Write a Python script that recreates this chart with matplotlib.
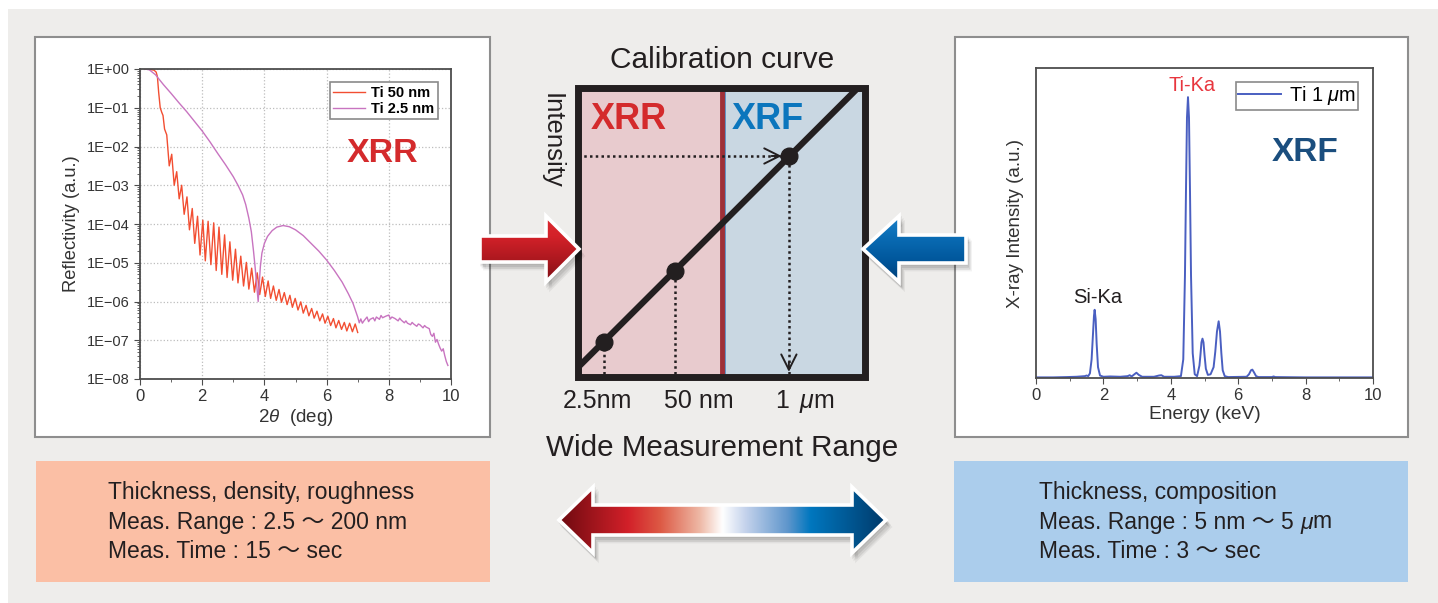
import numpy as np
import matplotlib.pyplot as plt
from matplotlib.patches import Rectangle, Polygon
from matplotlib.colors import LinearSegmentedColormap
from matplotlib.ticker import FuncFormatter, LogLocator, NullFormatter

plt.rcParams['font.family'] = ['Liberation Sans', 'Noto Sans CJK JP', 'DejaVu Sans']
plt.rcParams['mathtext.fontset'] = 'custom'
plt.rcParams['mathtext.rm'] = 'Liberation Sans'
plt.rcParams['mathtext.it'] = 'Liberation Sans:italic'
plt.rcParams['mathtext.bf'] = 'Liberation Sans:bold'

INK = '#231f20'

# ---- XRR data (log10 of reflectivity) ----
# Ti 50 nm: total reflection edge, then Kiessig fringe maxima and minima
ti50_edge_deg = [0.15, 0.3, 0.45, 0.52, 0.56, 0.6, 0.65, 0.7, 0.74, 0.79]
ti50_edge_log = [0.0, -0.01, -0.03, -0.08, -0.2, -0.6, -1.0, -1.12, -1.2, -1.55]
ti50_max_deg = [0.86, 1.02, 1.18, 1.34, 1.51, 1.68, 1.85, 2.02, 2.19, 2.37, 2.54, 2.72,
                2.89, 3.07, 3.24, 3.42, 3.59, 3.77, 3.94, 4.12, 4.29, 4.47, 4.64, 4.82,
                4.99, 5.17, 5.34, 5.52, 5.69, 5.87, 6.04, 6.22, 6.39, 6.57, 6.74, 6.92]
ti50_max_log = [-1.7, -2.2, -2.65, -3.0, -3.3, -3.6, -3.8, -3.9, -3.93, -3.97, -4.08, -4.28,
                -4.46, -4.65, -4.83, -4.99, -5.14, -5.26, -5.37, -5.47, -5.6, -5.69, -5.77, -5.84,
                -5.92, -6.01, -6.1, -6.18, -6.25, -6.32, -6.38, -6.44, -6.49, -6.54, -6.56, -6.58]
ti50_min_deg = [0.94, 1.10, 1.26, 1.42, 1.59, 1.76, 1.93, 2.10, 2.28, 2.45, 2.63, 2.80,
                2.98, 3.15, 3.33, 3.50, 3.68, 3.85, 4.03, 4.20, 4.38, 4.55, 4.73, 4.90,
                5.08, 5.25, 5.43, 5.60, 5.78, 5.95, 6.13, 6.30, 6.48, 6.65, 6.83, 7.00]
ti50_min_log = [-2.5, -3.0, -3.35, -3.75, -4.15, -4.5, -4.8, -4.95, -5.05, -5.2, -5.3, -5.38,
                -5.45, -5.52, -5.6, -5.68, -5.76, -5.82, -5.87, -5.92, -5.97, -6.02, -6.08, -6.15,
                -6.22, -6.3, -6.37, -6.43, -6.5, -6.56, -6.62, -6.68, -6.72, -6.76, -6.78, -6.8]

# Ti 2.5 nm: (2theta, log10 R)
ti25_curve = [
    (0.15, 0.0), (0.3, -0.02), (0.5, -0.15), (0.75, -0.4), (1.0, -0.63), (1.25, -0.87),
    (1.5, -1.1), (1.75, -1.35), (2.0, -1.6), (2.25, -1.88), (2.5, -2.18), (2.75, -2.47),
    (3.0, -2.78), (3.15, -3.0), (3.3, -3.25), (3.4, -3.5), (3.5, -3.85), (3.58, -4.2),
    (3.65, -4.7), (3.7, -5.1), (3.75, -5.55), (3.8, -6.0), (3.83, -5.6), (3.87, -5.1),
    (3.92, -4.75), (4.0, -4.5), (4.1, -4.32), (4.25, -4.17), (4.4, -4.08), (4.6, -4.04),
    (4.8, -4.07), (5.0, -4.15), (5.25, -4.3), (5.5, -4.5), (5.75, -4.7), (6.0, -4.93),
    (6.25, -5.2), (6.5, -5.5), (6.7, -5.8), (6.85, -6.05), (7.0, -6.4), (7.05, -6.55),
    (7.1, -6.45), (7.15, -6.56), (7.2, -6.5), (7.3, -6.4), (7.35, -6.52), (7.4, -6.46),
    (7.5, -6.42), (7.55, -6.5), (7.6, -6.4), (7.7, -6.46), (7.75, -6.36), (7.8, -6.42),
    (7.9, -6.38), (8.0, -6.35), (8.05, -6.45), (8.1, -6.4), (8.2, -6.44), (8.3, -6.5),
    (8.35, -6.43), (8.4, -6.48), (8.5, -6.55), (8.55, -6.5), (8.6, -6.56), (8.7, -6.6),
    (8.75, -6.54), (8.8, -6.58), (8.9, -6.64), (8.95, -6.58), (9.0, -6.6), (9.1, -6.68),
    (9.15, -6.62), (9.2, -6.66), (9.3, -6.7), (9.35, -6.85), (9.4, -6.9), (9.45, -6.82),
    (9.5, -7.05), (9.55, -6.98), (9.6, -7.1), (9.65, -7.2), (9.7, -7.28), (9.75, -7.22),
    (9.8, -7.4), (9.85, -7.55), (9.9, -7.65),
]

# ---- XRF spectrum: (energy keV, intensity as fraction of full scale) ----
xrf_spectrum = [
    (0.0, 0.002), (0.5, 0.002), (0.9, 0.003), (1.2, 0.004), (1.45, 0.006), (1.5, 0.008),
    (1.55, 0.006), (1.6, 0.015), (1.65, 0.06), (1.69, 0.14), (1.72, 0.20), (1.74, 0.22),
    (1.77, 0.19), (1.8, 0.11), (1.84, 0.035), (1.9, 0.008), (2.0, 0.004), (2.2, 0.005),
    (2.5, 0.004), (2.72, 0.006), (2.78, 0.009), (2.84, 0.005), (2.92, 0.012), (2.98, 0.017),
    (3.05, 0.01), (3.15, 0.004), (3.5, 0.004), (3.65, 0.008), (3.72, 0.009), (3.8, 0.004),
    (4.1, 0.004), (4.3, 0.006), (4.37, 0.06), (4.42, 0.33), (4.45, 0.60), (4.48, 0.84),
    (4.51, 0.906), (4.54, 0.84), (4.57, 0.60), (4.6, 0.33), (4.65, 0.08), (4.71, 0.012),
    (4.78, 0.006), (4.85, 0.04), (4.88, 0.075), (4.91, 0.115), (4.94, 0.127), (4.97, 0.115),
    (5.0, 0.075), (5.04, 0.03), (5.1, 0.01), (5.18, 0.012), (5.27, 0.035), (5.32, 0.085),
    (5.37, 0.15), (5.42, 0.183), (5.46, 0.15), (5.5, 0.08), (5.54, 0.025), (5.6, 0.006),
    (5.7, 0.003), (6.25, 0.004), (6.32, 0.012), (6.38, 0.025), (6.42, 0.027), (6.47, 0.018),
    (6.53, 0.006), (6.6, 0.003), (7.0, 0.003), (7.05, 0.005), (7.1, 0.003), (8.0, 0.002),
    (9.0, 0.002), (10.0, 0.002),
]

# ---- calibration sketch (schematic 0..1 axes) ----
calib_line_x = [0.0, 0.975]
calib_line_y = [0.03, 1.0]
calib_pos = [0.092, 0.338, 0.734]
calib_intensity = [0.121, 0.366, 0.763]
calib_labels = ['2.5nm', '50 nm', r'1 $\,\mu$m']
calib_label_x = [0.07, 0.42, 0.79]
region_split = 0.5

xrr_specs = ['Thickness, density, roughness', 'Meas. Range : 2.5 ～ 200 nm', 'Meas. Time : 15 ～ sec']
xrf_specs = ['Thickness, composition', 'Meas. Range : 5 nm ～ 5 ', 'Meas. Time : 3 ～ sec']

W, H = 1438, 603
fig = plt.figure(figsize=(W / 100, H / 100), dpi=100)
fig.patch.set_facecolor('white')


def px_axes(x0, y0, x1, y1):
    return fig.add_axes([x0 / W, 1 - y1 / H, (x1 - x0) / W, (y1 - y0) / H])


# background layer in pixel coordinates
bg = px_axes(0, 0, W, H)
bg.set_zorder(-5)
bg.axis('off')
bg.set_xlim(0, W)
bg.set_ylim(H, 0)
bg.add_patch(Rectangle((8, 9), W - 8, H - 9, facecolor='#eeedeb', edgecolor='none'))
for x0, x1 in [(35, 490), (955, 1408)]:
    bg.add_patch(Rectangle((x0, 37), x1 - x0, 400, facecolor='white', edgecolor='#8e8e8e', lw=1.5))
bg.add_patch(Rectangle((36, 461), 454, 121, facecolor='#fbbfa5', edgecolor='none'))
bg.add_patch(Rectangle((954, 461), 454, 121, facecolor='#abcdec', edgecolor='none'))

bg.text(722, 60, 'Calibration curve', fontsize=21.5, ha='center', va='center', color=INK)
bg.text(722, 448, 'Wide Measurement Range', fontsize=21.3, ha='center', va='center', color=INK)
bg.text(552, 141, 'Intensity', rotation=-90, fontsize=18.5, ha='center', va='center', color=INK)

for i, line in enumerate(xrr_specs):
    bg.text(108, 493 + 29 * i, line, fontsize=16.5, ha='left', va='center', color=INK)
spec_texts = []
for i, line in enumerate(xrf_specs):
    spec_texts.append(bg.text(1039, 493 + 29 * i, line, fontsize=16.5, ha='left', va='center', color=INK))
mu = bg.annotate('μ', xy=(1, 0), xycoords=spec_texts[1], fontsize=16.5, fontstyle='italic',
                 ha='left', va='bottom', color=INK)
bg.annotate('m', xy=(1, 0), xycoords=mu, fontsize=16.5, ha='left', va='bottom', color=INK)

# ---- left: XRR chart ----
ax1 = px_axes(140, 69, 451, 379)
order = np.argsort(ti50_edge_deg + ti50_max_deg + ti50_min_deg)
ti50_x = np.array(ti50_edge_deg + ti50_max_deg + ti50_min_deg)[order]
ti50_y = 10 ** np.array(ti50_edge_log + ti50_max_log + ti50_min_log)[order]
ti25_x = [p[0] for p in ti25_curve]
ti25_y = [10 ** p[1] for p in ti25_curve]
ax1.plot(ti50_x, ti50_y, color='#f24e32', lw=1.0, label='Ti 50 nm')
ax1.plot(ti25_x, ti25_y, color='#c874c0', lw=1.0, label='Ti 2.5 nm')
ax1.set_yscale('log')
ax1.set_xlim(0, 10)
ax1.set_ylim(1e-8, 1)
ax1.set_xticks(range(0, 11, 2))
ax1.set_xticks(range(1, 10, 2), minor=True)
ax1.yaxis.set_major_locator(LogLocator(base=10, numticks=20))
ax1.yaxis.set_minor_locator(LogLocator(base=10, subs=np.arange(2, 10), numticks=20))
ax1.yaxis.set_major_formatter(FuncFormatter(
    lambda v, p: ('1E%+03d' % int(round(np.log10(v)))).replace('-', '\u2212')))
ax1.yaxis.set_minor_formatter(NullFormatter())
ax1.grid(True, which='major', ls=':', color='#bdbdbd', lw=0.9)
ax1.tick_params(axis='y', which='major', labelsize=10.5, length=4, color='#4d4d4d', labelcolor='#333333')
ax1.tick_params(axis='x', which='major', labelsize=12, length=4, color='#4d4d4d', labelcolor='#333333')
ax1.tick_params(which='minor', length=2, color='#4d4d4d')
for s in ax1.spines.values():
    s.set_color('#4d4d4d')
    s.set_linewidth(1.3)
ax1.set_xlabel(r'2$\theta$  (deg)', fontsize=13.5, color='#333333', labelpad=2)
ax1.set_ylabel('Reflectivity (a.u.)', fontsize=13.2, color='#333333', labelpad=5)
leg1 = ax1.legend(loc='upper right', bbox_to_anchor=(438 / W, 1 - 82 / H), bbox_transform=fig.transFigure,
                  fancybox=False, framealpha=1, edgecolor='#8a8a8a', borderaxespad=0,
                  prop=dict(weight='bold', size=10.5), handlelength=2.2, borderpad=0.25,
                  labelspacing=0.15, handletextpad=0.4)
leg1.get_frame().set_linewidth(1.2)
ax1.text(0.78, 0.727, 'XRR', transform=ax1.transAxes, fontsize=24.5, fontweight='bold',
         color='#d42a2c', ha='center', va='center')

# ---- right: XRF chart ----
ax2 = px_axes(1036, 68, 1373, 378)
ax2.plot([p[0] for p in xrf_spectrum], [p[1] for p in xrf_spectrum], color='#4a5fc1', lw=1.4,
         label=r'Ti 1 $\mu$m')
ax2.set_xlim(0, 10)
ax2.set_ylim(0, 1)
ax2.set_xticks(range(0, 11, 2))
ax2.set_xticks(range(1, 10, 2), minor=True)
ax2.set_yticks([])
ax2.tick_params(axis='x', which='major', labelsize=12, length=4, color='#4d4d4d', labelcolor='#333333')
ax2.tick_params(axis='x', which='minor', length=2, color='#4d4d4d')
for s in ax2.spines.values():
    s.set_color('#4d4d4d')
    s.set_linewidth(1.3)
ax2.set_xlabel('Energy (keV)', fontsize=13.8, color='#333333', labelpad=2)
ax2.set_ylabel('X-ray Intensity (a.u.)', fontsize=13.5, color='#333333', labelpad=9)
leg2 = ax2.legend(loc='upper right', bbox_to_anchor=(1358 / W, 1 - 82 / H), bbox_transform=fig.transFigure,
                  fancybox=False, framealpha=1, edgecolor='#8a8a8a', borderaxespad=0,
                  fontsize=14.3, handlelength=2.15, borderpad=0.12, handletextpad=0.4)
leg2.get_frame().set_linewidth(1.2)
ax2.text(4.62, 0.945, 'Ti-Ka', fontsize=14.4, color='#e8363e', ha='center', va='center')
ax2.text(1.83, 0.259, 'Si-Ka', fontsize=14.5, color=INK, ha='center', va='center')
ax2.text(0.798, 0.729, 'XRF', transform=ax2.transAxes, fontsize=24, fontweight='bold',
         color='#1b4e7e', ha='center', va='center')

# ---- centre: calibration curve sketch ----
axc = px_axes(577.5, 87.5, 865.5, 376.5)
axc.set_xlim(0, 1)
axc.set_ylim(0, 1)
axc.axvspan(0, region_split, color='#e8cbce', lw=0)
axc.axvspan(region_split, 1, color='#c9d7e2', lw=0)
axc.axvline(region_split + 0.012, color='#4f86c0', lw=1.2)
axc.axvline(region_split, color='#9f3038', lw=3.5)
axc.set_xticks([])
axc.set_yticks([])
for s in axc.spines.values():
    s.set_visible(False)
dots = (0, (1, 1.3))
axc.plot([0, calib_pos[2] - 0.02], [calib_intensity[2]] * 2, ls=dots, lw=1.8, color=INK)
for x, y in zip(calib_pos, calib_intensity):
    axc.plot([x, x], [0.01, y], ls=dots, lw=1.8, color=INK)
head = dict(arrowstyle='->,head_length=1.1,head_width=0.55', lw=1.4, color=INK, shrinkA=0, shrinkB=0)
axc.annotate('', xy=(calib_pos[2] - 0.025, calib_intensity[2]),
             xytext=(calib_pos[2] - 0.06, calib_intensity[2]), arrowprops=head)
axc.annotate('', xy=(calib_pos[2], 0.016), xytext=(calib_pos[2], 0.05), arrowprops=head)
axc.plot(calib_line_x, calib_line_y, color=INK, lw=4.5, solid_capstyle='butt')
axc.plot(calib_pos, calib_intensity, 'o', ms=12, color=INK)
axc.add_patch(Rectangle((0, 0), 1, 1, transform=axc.transAxes, fill=False, lw=5, edgecolor=INK,
                        clip_on=False, joinstyle='miter', zorder=5))
for x, lab in zip(calib_label_x, calib_labels):
    axc.text(x, -0.085, lab, fontsize=18, ha='center', va='center', color=INK)
axc.text(0.177, 0.888, 'XRR', fontsize=26, fontweight='bold', color='#d42a2c', ha='center', va='center')
axc.text(0.662, 0.888, 'XRF', fontsize=26, fontweight='bold', color='#0b76bd', ha='center', va='center')

# ---- foreground: block arrows ----
fg = px_axes(0, 0, W, H)
fg.set_zorder(10)
fg.axis('off')
fg.set_xlim(0, W)
fg.set_ylim(H, 0)
fg.set_autoscale_on(False)


def block_arrow(verts, stops, horizontal):
    xs = [v[0] for v in verts]
    ys = [v[1] for v in verts]
    for dx, dy, a in [(1.5, 3, 0.07), (3, 5, 0.07), (4.5, 7, 0.05)]:
        fg.add_patch(Polygon([(x + dx, y + dy) for x, y in verts], closed=True, facecolor='black',
                             edgecolor='black', lw=2, alpha=a, zorder=1))
    outline = Polygon(verts, closed=True, facecolor='none', edgecolor='white', lw=2.6,
                      joinstyle='miter', zorder=3)
    fg.add_patch(outline)
    cmap = LinearSegmentedColormap.from_list('grad', stops)
    ramp = np.linspace(0, 1, 256)
    img = ramp[None, :] if horizontal else ramp[:, None]
    im = fg.imshow(img, cmap=cmap, extent=[min(xs), max(xs), max(ys), min(ys)], aspect='auto',
                   interpolation='bilinear', zorder=2)
    im.set_clip_path(outline)


yc = 249
block_arrow([(480, yc - 13), (546, yc - 13), (546, yc - 33), (579, yc), (546, yc + 33),
             (546, yc + 13), (480, yc + 13)],
            [(0, '#dc2a30'), (0.3, '#d42129'), (0.7, '#a8171e'), (1, '#7e0e14')], False)
block_arrow([(966, yc - 14), (899, yc - 14), (899, yc - 33), (863, yc), (899, yc + 33),
             (899, yc + 14), (966, yc + 14)],
            [(0, '#1a80c8'), (0.3, '#0a6db5'), (0.7, '#00559a'), (1, '#003f78')], False)
yd = 520
block_arrow([(559, yd), (593, yd - 33), (593, yd - 15), (852, yd - 15), (852, yd - 33), (886, yd),
             (852, yd + 33), (852, yd + 15), (593, yd + 15), (593, yd + 33)],
            [(0, '#6e0a10'), (0.21, '#d22029'), (0.31, '#dd5a45'), (0.43, '#eeb8a5'), (0.5, '#ffffff'),
             (0.57, '#c5d3ec'), (0.7, '#5f96cc'), (0.77, '#0077bf'), (1, '#003a6a')], True)

fig.savefig('out.png', dpi=100, facecolor=fig.get_facecolor())
